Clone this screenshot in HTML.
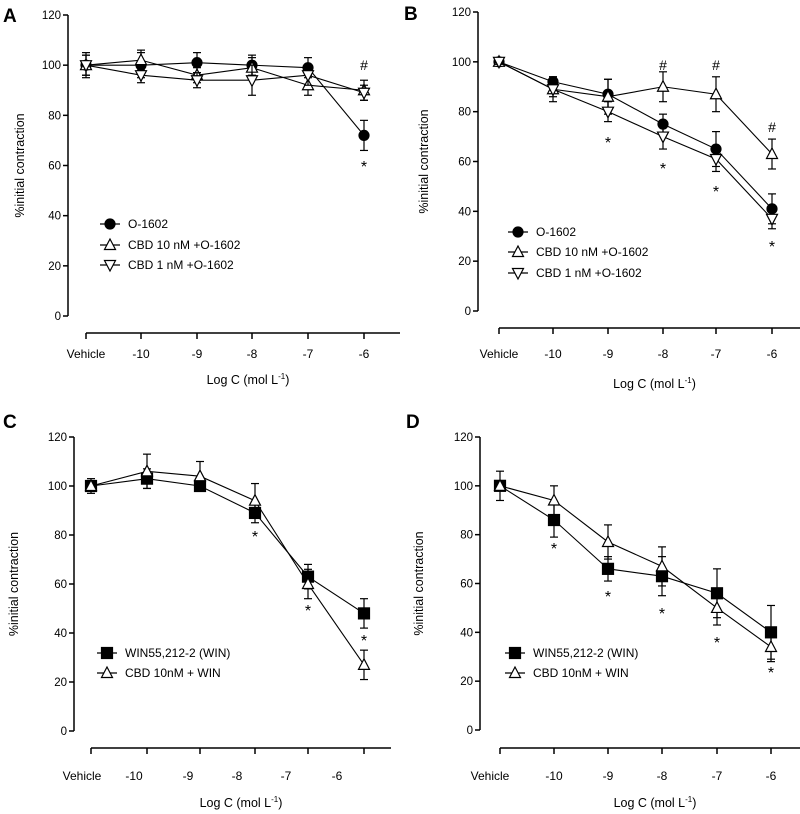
<!DOCTYPE html>
<html><head><meta charset="utf-8"><style>
html,body{margin:0;padding:0;background:#fff;}
svg{display:block;font-family:"Liberation Sans",Arial,sans-serif;}
</style></head><body>
<svg id="fig" width="800" height="814" viewBox="0 0 800 814" xmlns="http://www.w3.org/2000/svg"></svg>
<script>
// ---- data ----
const categories = ["Vehicle","-10","-9","-8","-7","-6"];
const yTicks = [0,20,40,60,80,100,120];
const aO1602 = [100,100,101,100,99,72];
const aO1602Err = [5,5,4,4,4,6];
const aCBD10 = [100,102,96,99,92,90];
const aCBD10Err = [4,4,3,4,4,4];
const aCBD1 = [100,96,94,94,96,89];
const aCBD1Err = [4,3,3,6,4,3];
const bO1602 = [100,92,87,75,65,41];
const bO1602Err = [1,2,6,4,7,6];
const bCBD10 = [100,89,86,90,87,63];
const bCBD10Err = [1,5,7,6,7,6];
const bCBD1 = [100,89,80,70,61,37];
const bCBD1Err = [1,3,4,5,5,4];
const cWIN = [100,103,100,89,63,48];
const cWINErr = [3,4,2,4,5,6];
const cCBD = [100,106,104,94,60,27];
const cCBDErr = [2,7,6,7,6,6];
const dWIN = [100,86,66,63,56,40];
const dWINErr = [6,7,5,8,10,11];
const dCBD = [100,94,77,67,50,34];
const dCBDErr = [1,6,7,8,7,6];

const NS="http://www.w3.org/2000/svg";
const svg=document.getElementById('fig');
function mk(tag,attrs,parent){const e=document.createElementNS(NS,tag);for(const k in attrs)e.setAttribute(k,attrs[k]);(parent||svg).appendChild(e);return e;}

const panels=[
 {id:'a',letter:'A',lx:3,ly:22,ax:68,y0:316,y120:15,xa:333,xs:[86,141,197,252,308,364],xl:null,xend:400,lblY:358,titY:384,ytx:24,
  series:[{n:'O-1602',v:aO1602,e:aO1602Err,m:'circle'},{n:'CBD 10 nM +O-1602',v:aCBD10,e:aCBD10Err,m:'up'},{n:'CBD 1 nM +O-1602',v:aCBD1,e:aCBD1Err,m:'down'}],
  legX:110,legY:[224,245,265],
  ann:[['#',5,62],['*',5,158]]},
 {id:'b',letter:'B',lx:404,ly:20,ax:478,y0:311,y120:12,xa:328,xs:[499,553,608,663,716,772],xl:null,xend:800,lblY:358,titY:388,ytx:428,
  series:[{n:'O-1602',v:bO1602,e:bO1602Err,m:'circle'},{n:'CBD 10 nM +O-1602',v:bCBD10,e:bCBD10Err,m:'up'},{n:'CBD 1 nM +O-1602',v:bCBD1,e:bCBD1Err,m:'down'}],
  legX:518,legY:[232,252,273],
  ann:[['#',3,62],['#',4,62],['#',5,124],['*',2,134],['*',3,160],['*',4,183],['*',5,238]]},
 {id:'c',letter:'C',lx:3,ly:428,ax:74,y0:731,y120:437,xa:748,xs:[91,147,200,255,308,364],xl:[82,134,188,237,286,337],xend:391,lblY:780,titY:807,ytx:18,
  series:[{n:'WIN55,212-2 (WIN)',v:cWIN,e:cWINErr,m:'square'},{n:'CBD 10nM + WIN',v:cCBD,e:cCBDErr,m:'up'}],
  legX:107,legY:[653,673],
  ann:[['*',3,528],['*',4,602],['*',5,632]]},
 {id:'d',letter:'D',lx:406,ly:428,ax:480,y0:730,y120:437,xa:748,xs:[500,554,608,662,717,771],xl:[490,554,608,662,717,771],xend:800,lblY:780,titY:807,ytx:423,
  series:[{n:'WIN55,212-2 (WIN)',v:dWIN,e:dWINErr,m:'square'},{n:'CBD 10nM + WIN',v:dCBD,e:dCBDErr,m:'up'}],
  legX:515,legY:[653,673],
  ann:[['*',1,540],['*',2,588],['*',3,605],['*',4,634],['*',5,664]]}
];

function marker(g,type,x,y){
  const s={stroke:'#000','stroke-width':1.2};
  if(type==='circle') return mk('circle',{cx:x,cy:y,r:5,fill:'#000',...s},g);
  if(type==='square') return mk('rect',{x:x-5.5,y:y-5.5,width:11,height:11,fill:'#000',...s},g);
  if(type==='up') return mk('polygon',{points:`${x},${y-6} ${x-5.5},${y+4.5} ${x+5.5},${y+4.5}`,fill:'#fff',...s},g);
  if(type==='down') return mk('polygon',{points:`${x},${y+6} ${x-5.5},${y-4.5} ${x+5.5},${y-4.5}`,fill:'#fff',...s},g);
}

panels.forEach(p=>{
  const g=mk('g',{});
  
  
  const yS=v=>p.y0+(p.y120-p.y0)*v/120;
  const t=mk('text',{x:p.lx,y:p.ly,'font-size':19,'font-weight':'bold'},g);t.textContent=p.letter;
  
  
  const ya=mk('line',{x1:p.ax,x2:p.ax,y1:p.y120,y2:p.y0,stroke:'#000','stroke-width':1.5},g);
  
  
  yTicks.forEach(v=>{
    const y=yS(v);
    mk('line',{x1:p.ax-5,x2:p.ax,y1:y,y2:y,stroke:'#000','stroke-width':1.5},g);
    const tl=mk('text',{x:p.ax-7,y:y+4,'font-size':11.5,'text-anchor':'end'},g);tl.textContent=v;
    
    
  });
  const yt=mk('text',{x:0,y:0,'font-size':12.5,'text-anchor':'middle',transform:`translate(${p.ytx},${(p.y0+p.y120)/2}) rotate(-90)`},g);
  yt.textContent='%initial contraction';
  
  
  const xa=mk('line',{x1:p.xs[0],x2:p.xend,y1:p.xa,y2:p.xa,stroke:'#000','stroke-width':1.5},g);
  
  
  categories.forEach((c,i)=>{
    mk('line',{x1:p.xs[i],x2:p.xs[i],y1:p.xa,y2:p.xa+6,stroke:'#000','stroke-width':1.5},g);
    const lx=p.xl?p.xl[i]:p.xs[i];
    const tl=mk('text',{x:lx,y:p.lblY,'font-size':12,'text-anchor':'middle'},g);tl.textContent=c;
    
    
  });
  const xt=mk('text',{x:(p.xs[0]+p.xend)/2+(p.id==='c'?0:5),y:p.titY,'font-size':12.5,'text-anchor':'middle'},g);
  xt.innerHTML='Log C (mol L<tspan dy="-5" font-size="8">-1</tspan><tspan dy="5">)</tspan>';
  
  
  p.series.forEach((s,si)=>{
    const sg=mk('g',{},g);
    
    
    const pts=s.v.map((v,i)=>`${p.xs[i]},${yS(v)}`).join(' ');
    mk('polyline',{points:pts,fill:'none',stroke:'#000','stroke-width':1.1},sg);
    s.v.forEach((v,i)=>{
      const x=p.xs[i],yt=yS(v+s.e[i]),yb=yS(v-s.e[i]);
      mk('line',{x1:x,x2:x,y1:yt,y2:yb,stroke:'#000','stroke-width':1.2},sg);
      mk('line',{x1:x-4,x2:x+4,y1:yt,y2:yt,stroke:'#000','stroke-width':1.2},sg);
      mk('line',{x1:x-4,x2:x+4,y1:yb,y2:yb,stroke:'#000','stroke-width':1.2},sg);
      const m=marker(sg,s.m,x,yS(v));
      
      
    });
    const ly=p.legY[si];
    const lg=mk('g',{},g);
    
    
    mk('line',{x1:p.legX-10,x2:p.legX+10,y1:ly,y2:ly,stroke:'#000','stroke-width':1.2},lg);
    marker(lg,s.m,p.legX,ly);
    const lt=mk('text',{x:p.legX+18,y:ly+4,'font-size':12},lg);lt.textContent=s.n;
  });
  p.ann.forEach(a=>{
    const at=mk('text',{x:p.xs[a[1]],y:a[2]+(a[0]==='*'?14:8),'font-size':a[0]==='*'?16:14,'text-anchor':'middle'},g);
    at.textContent=a[0];
    
    
  });
});
</script>
</body></html>
